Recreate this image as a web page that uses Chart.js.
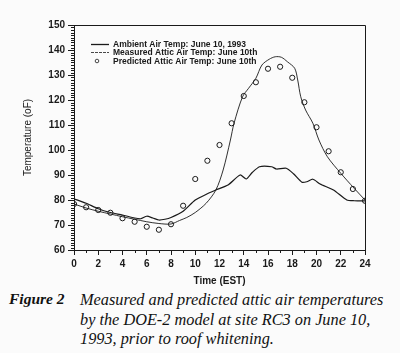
<!DOCTYPE html>
<html>
<head>
<meta charset="utf-8">
<script src="https://cdn.jsdelivr.net/npm/chart.js@4.4.1/dist/chart.umd.min.js"></script>
<style>
  body { margin: 0; background: #fbfbfb; }
  #wrap { position: relative; width: 400px; height: 353px; overflow: hidden; }
  #grafica { position: absolute; left: 0; top: 0; }
  .cap { position: absolute; font-family: "Liberation Serif", "DejaVu Serif", serif; font-style: italic; font-size: 16.3px; color: #111; white-space: nowrap; }
  #figNum { left: 9px; top: 290px; font-weight: bold; font-size: 15.5px; }
  #figText { left: 80px; top: 290px; line-height: 19.5px; }
</style>
</head>
<body>
<div id="wrap">
  <canvas id="grafica" width="400" height="290"></canvas>
  <div class="cap" id="figNum">Figure 2</div>
  <div class="cap" id="figText">Measured and predicted attic air temperatures<br>by the DOE-2 model at site RC3 on June 10,<br>1993, prior to roof whitening.</div>
</div>
<script>
// Datos
const horasAmbiente = [0, 1, 2, 3, 4, 5, 5.5, 6, 6.5, 7, 7.5, 8, 9, 10, 11, 11.7, 12.7, 13.7, 14.2, 14.7, 15.3, 16.3, 16.7, 17.5, 18.1, 18.8, 19.2, 19.7, 20.3, 21.4, 22.5, 23.1, 24];
const tempAmbiente = [80.5, 78.7, 76.5, 75, 74, 72.8, 72.5, 73.5, 72.8, 72, 72.3, 73, 75.5, 80, 82.5, 84, 86, 90, 88.4, 91, 93.3, 93.3, 92.4, 92.7, 90.5, 87.1, 87.3, 88.3, 86.4, 84, 80, 79.7, 79.7];

const horasAtico = [0, 1, 2, 3, 4, 5, 6, 7, 8, 8.7, 9.3, 10, 10.9, 11.7, 12.3, 12.9, 13.2, 13.9, 14.4, 15, 15.5, 16.1, 16.6, 17.1, 17.6, 18.2, 18.45, 18.7, 19.1, 19.7, 20.2, 20.9, 22, 23.1, 24];
const tempAtico = [78.4, 76.8, 75.5, 74.4, 73.3, 72.3, 71.3, 70.6, 70.4, 71.8, 73, 75, 78.7, 84, 92, 104, 110.7, 121.3, 124.7, 128.7, 134, 136.3, 137.3, 137.1, 135.3, 132.7, 128, 121.3, 116, 110.7, 104, 97.3, 90.7, 84.7, 80];

const horasPrediccion = [0, 1, 2, 3, 4, 5, 6, 7, 8, 9, 10, 11, 12, 13, 14, 15, 16, 17, 18, 19, 20, 21, 22, 23, 24];
const tempPrediccion = [78.4, 77.1, 76, 74.9, 72.7, 71.3, 69.3, 68.1, 70.3, 77.7, 88.4, 95.7, 102, 110.7, 121.6, 127.1, 132.5, 133.3, 128.9, 119.1, 109.1, 99.5, 91.1, 84.4, 79.7];

const etiquetasLeyenda = ["Ambient Air Temp: June 10, 1993", "Measured Attic Air Temp: June 10th", "Predicted Attic Air Temp: June 10th"];

const tinta = "#1a1a1a";

function puntos(xs, ys) {
  return xs.map((x, i) => ({ x: x, y: ys[i] }));
}

// Marco, marcas menores y leyenda
const extras = {
  id: "extras",
  afterDraw(chart) {
    const ctx = chart.ctx;
    const a = chart.chartArea;
    const sx = chart.scales.x;
    const sy = chart.scales.y;
    ctx.save();
    ctx.strokeStyle = tinta;
    ctx.lineWidth = 1;
    ctx.beginPath();
    ctx.moveTo(a.left, a.top + 0.5);
    ctx.lineTo(a.right + 0.5, a.top + 0.5);
    ctx.lineTo(a.right + 0.5, a.bottom);
    ctx.stroke();

    ctx.beginPath();
    for (let v = 61; v < 150; v++) {
      if (v % 10 === 0) continue;
      const y = Math.round(sy.getPixelForValue(v)) + 0.5;
      ctx.moveTo(a.left - 3, y);
      ctx.lineTo(a.left, y);
    }
    for (let h = 1; h < 24; h += 2) {
      const x = Math.round(sx.getPixelForValue(h)) + 0.5;
      ctx.moveTo(x, a.bottom);
      ctx.lineTo(x, a.bottom + 3);
    }
    ctx.stroke();

    // Leyenda
    const x0 = a.left + 17;
    const tx = a.left + 39;
    const filas = [a.top + 19.5, a.top + 27.5, a.top + 36];
    ctx.font = "bold 8.5px 'Liberation Sans', Arial, sans-serif";
    ctx.fillStyle = tinta;
    ctx.textBaseline = "middle";
    ctx.lineWidth = 1.3;
    ctx.beginPath();
    ctx.moveTo(x0, filas[0]);
    ctx.lineTo(x0 + 18, filas[0]);
    ctx.stroke();
    ctx.lineWidth = 0.8;
    ctx.setLineDash([3, 1]);
    ctx.beginPath();
    ctx.moveTo(x0, filas[1]);
    ctx.lineTo(x0 + 18, filas[1]);
    ctx.stroke();
    ctx.setLineDash([]);
    ctx.beginPath();
    ctx.arc(x0 + 6, filas[2], 1.8, 0, Math.PI * 2);
    ctx.stroke();
    etiquetasLeyenda.forEach((t, i) => ctx.fillText(t, tx, filas[i] + 0.5));
    ctx.restore();
  }
};

const ctx = document.getElementById("grafica").getContext("2d");
new Chart(ctx, {
  type: "line",
  data: {
    datasets: [
      {
        label: etiquetasLeyenda[0],
        data: puntos(horasAmbiente, tempAmbiente),
        borderColor: tinta,
        borderWidth: 1.25,
        pointRadius: 0,
        tension: 0.2,
        fill: false
      },
      {
        label: etiquetasLeyenda[1],
        data: puntos(horasAtico, tempAtico),
        borderColor: tinta,
        borderWidth: 0.9,
        pointRadius: 0,
        tension: 0.3,
        fill: false
      },
      {
        label: etiquetasLeyenda[2],
        data: puntos(horasPrediccion, tempPrediccion),
        showLine: false,
        borderColor: tinta,
        backgroundColor: "rgba(0,0,0,0)",
        borderWidth: 1,
        pointRadius: 2.6,
        pointStyle: "circle"
      }
    ]
  },
  options: {
    responsive: false,
    animation: false,
    layout: { padding: { left: 0, right: 35, top: 25, bottom: 0 } },
    plugins: {
      legend: { display: false },
      tooltip: { enabled: false }
    },
    scales: {
      x: {
        type: "linear",
        min: 0,
        max: 24,
        afterFit: s => { s.height = 40; },
        ticks: {
          stepSize: 2,
          color: tinta,
          padding: 3,
          font: { family: "'Liberation Sans', Arial, sans-serif", size: 10, weight: "bold" }
        },
        grid: { drawOnChartArea: false, tickLength: 5, color: tinta },
        border: { color: tinta, width: 1 },
        title: {
          display: true,
          text: "Time (EST)",
          color: tinta,
          padding: { top: 0, bottom: 3 },
          font: { family: "'Liberation Sans', Arial, sans-serif", size: 10, weight: "bold" }
        }
      },
      y: {
        min: 60,
        max: 150,
        afterFit: s => { s.width = 74; },
        ticks: {
          stepSize: 10,
          color: tinta,
          padding: 3,
          font: { family: "'Liberation Sans', Arial, sans-serif", size: 10, weight: "bold" }
        },
        grid: { drawOnChartArea: false, tickLength: 6, color: tinta },
        border: { color: tinta, width: 1 },
        title: {
          display: true,
          text: "Temperature (oF)",
          color: tinta,
          padding: { top: 22, bottom: 0 },
          font: { family: "'Liberation Sans', Arial, sans-serif", size: 10 }
        }
      }
    }
  },
  plugins: [extras]
});
</script>
</body>
</html>
